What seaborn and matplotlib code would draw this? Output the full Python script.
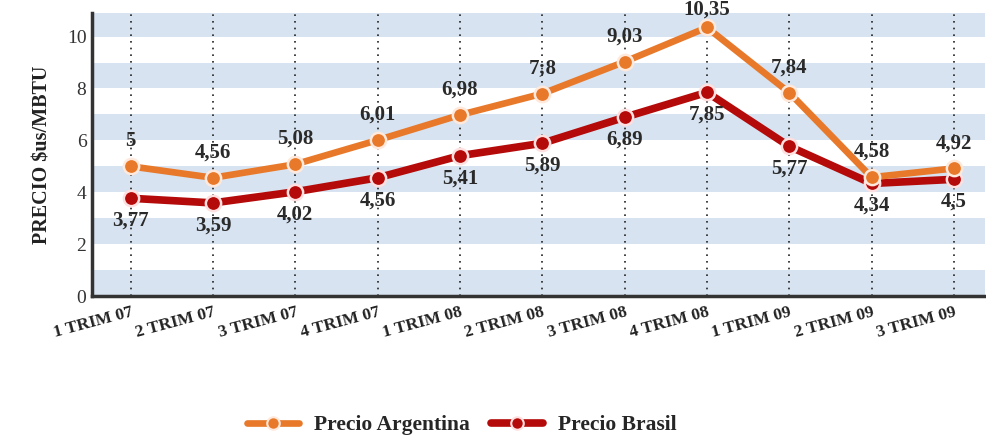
import matplotlib
matplotlib.use("Agg")
import matplotlib.pyplot as plt
import seaborn as sns
import pandas as pd
from matplotlib.lines import Line2D

categories = ["1 TRIM 07", "2 TRIM 07", "3 TRIM 07", "4 TRIM 07", "1 TRIM 08", "2 TRIM 08",
              "3 TRIM 08", "4 TRIM 08", "1 TRIM 09", "2 TRIM 09", "3 TRIM 09"]
argentina = [5.00, 4.56, 5.08, 6.01, 6.98, 7.80, 9.03, 10.35, 7.84, 4.58, 4.92]
brasil = [3.77, 3.59, 4.02, 4.56, 5.41, 5.89, 6.89, 7.85, 5.77, 4.34, 4.50]
argentina_labels = ["5", "4,56", "5,08", "6,01", "6,98", "7;8", "9,03", "10,35", "7,84", "4,58", "4,92"]
brasil_labels = ["3,77", "3,59", "4,02", "4,56", "5,41", "5,89", "6,89", "7,85", "5,77", "4,34", "4,5"]
yticks = [0, 2, 4, 6, 8, 10]

sns.set_style("white")
plt.rcParams["font.family"] = ["Liberation Serif", "DejaVu Serif"]

df = pd.DataFrame({"cat": categories, "Argentina": argentina, "Brasil": brasil})

fig = plt.figure(figsize=(9.87, 4.40), dpi=100)
ax = fig.add_axes([0.0932, 0.327, 0.905, 0.643])

# background stripes
for lo in range(0, 11, 2):
    ax.axhspan(lo, lo + 1, color="#D7E3F0", zorder=0, lw=0)

orange = "#E8792A"
red = "#B40A0A"

sns.lineplot(data=df, x="cat", y="Argentina", ax=ax, color=orange, lw=4.8, marker="o",
             markersize=11, markeredgecolor="#FFE9DC", markeredgewidth=1.8, zorder=4, sort=False)
sns.lineplot(data=df, x="cat", y="Brasil", ax=ax, color=red, lw=5.5, marker="o",
             markersize=11, markeredgecolor="#FFE0E0", markeredgewidth=1.8, zorder=3, sort=False)

top_label_offset = [11] * len(categories)
top_label_offset[7] = 6
for i in range(len(categories)):
    ax.axvline(i, color="#222222", ls=(0, (1, 3)), lw=1.2, zorder=1)
    ax.annotate(argentina_labels[i], (i, argentina[i]), xytext=(0, top_label_offset[i]),
                textcoords="offset points", ha="center", va="bottom", fontsize=15,
                fontweight="bold", color="#2a2a2a", annotation_clip=False, zorder=6)
    ax.annotate(brasil_labels[i], (i, brasil[i]), xytext=(0, -9), textcoords="offset points",
                ha="center", va="top", fontsize=15, fontweight="bold", color="#2a2a2a",
                annotation_clip=False, zorder=6)

ax.set_xlim(-0.47, 10.38)
ax.set_ylim(0, 10.9)
ax.set_yticks(yticks)
ax.set_yticklabels([str(v) for v in yticks], fontsize=14, color="#333333")
ax.set_xticks(range(len(categories)))
ax.set_xticklabels(categories, rotation=15, ha="right", rotation_mode="anchor",
                   fontsize=12.5, fontweight="bold", color="#222222")
ax.tick_params(axis="x", length=0, pad=6)
ax.tick_params(axis="y", length=0, pad=4)
ax.set_xlabel("")
ax.set_ylabel("PRECIO $us/MBTU", fontsize=14.5, fontweight="bold", color="#222222", labelpad=10)

for s in ["top", "right"]:
    ax.spines[s].set_visible(False)
for s in ["left", "bottom"]:
    ax.spines[s].set_color("#333333")
    ax.spines[s].set_linewidth(2.5)

handles = [
    Line2D([0], [0], color=orange, lw=4.8, marker="o", markersize=9,
           markeredgecolor="#FFE9DC", markeredgewidth=1.5),
    Line2D([0], [0], color=red, lw=5.5, marker="o", markersize=9,
           markeredgecolor="#FFE0E0", markeredgewidth=1.5),
]
fig.legend(handles, ["Precio Argentina", "Precio Brasil"], loc="center",
           bbox_to_anchor=(0.468, 0.034), ncol=2, frameon=False,
           prop={"size": 15.5, "weight": "bold"}, handlelength=2.4, columnspacing=1.0,
           handletextpad=0.7)

fig.savefig("out.png", dpi=100)
